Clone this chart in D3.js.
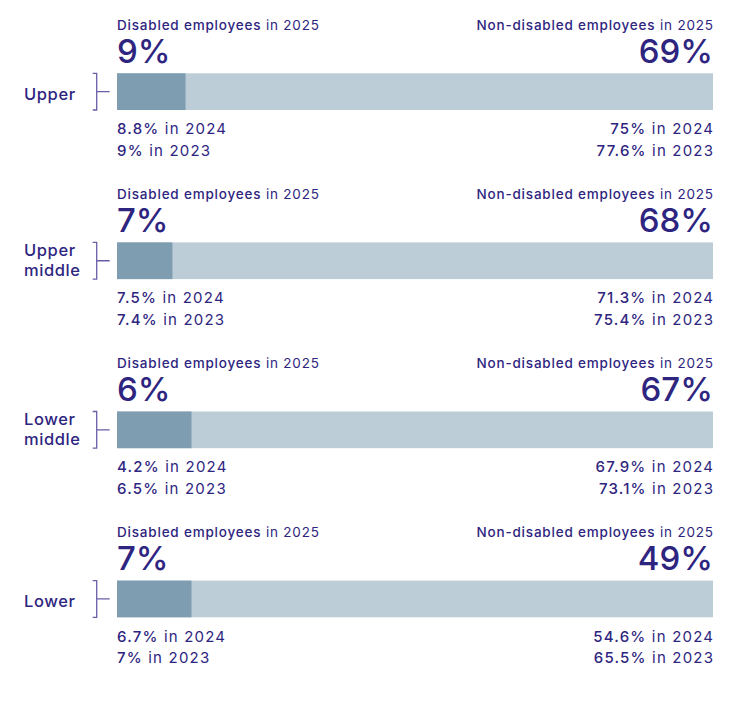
<!DOCTYPE html>
<html><head><meta charset="utf-8">
<script src="https://cdn.jsdelivr.net/npm/d3@7"></script>
<style>body{margin:0;background:#fff;} svg{display:block;} text{font-family:Inter,"Noto Sans",sans-serif;white-space:pre;}</style>
</head><body><svg id="c" width="730" height="706"></svg>
<script>
const groups = ["Upper", "Upper middle", "Lower middle", "Lower"];
const disabled2025 = [9, 7, 6, 7];
const nonDisabled2025 = [69, 68, 67, 49];
const disabled2024 = [8.8, 7.5, 4.2, 6.7];
const disabled2023 = [9, 7.4, 6.5, 7];
const nonDisabled2024 = [75, 71.3, 67.9, 54.6];
const nonDisabled2023 = [77.6, 75.4, 73.1, 65.5];
const darkShare = [11.5, 9.3, 12.5, 12.5];

const svg = d3.select("#c");
const textCol = "#2e2580", brCol = "#6a5ea8";
const x = d3.scaleLinear().domain([0, 100]).range([117, 713]);
const y = d3.scaleBand().domain(groups).range([0, 676.4]);
const barTop = 73.3, barH = 36.7;

// two-weight text: medium part, a space, then regular part
function pair(sel, px, py, anchor, medText, regText, size, ls) {
  const gap = size * 0.28 + ls;
  const mk = (t, w, xx, a) => sel.append("text").attr("x", xx).attr("y", py).attr("fill", textCol)
    .attr("font-size", size).attr("font-weight", w).attr("letter-spacing", ls).attr("text-anchor", a).text(t);
  if (anchor === "start") {
    const m = mk(medText, 500, px, "start");
    const w = m.node().getComputedTextLength();
    mk(regText, 400, px + w + gap, "start");
  } else {
    const r = mk(regText, 400, px + ls, "end");
    const w = r.node().getComputedTextLength();
    mk(medText, 500, px + ls - w - gap, "end");
  }
}

groups.forEach((g, i) => {
  const g0 = svg.append("g").attr("transform", `translate(0,${y(g)})`);
  g0.append("rect").attr("x", x(0)).attr("y", barTop).attr("width", x(100) - x(0)).attr("height", barH).attr("fill", "#bccdd8");
  g0.append("rect").attr("x", x(0)).attr("y", barTop).attr("width", x(darkShare[i]) - x(0)).attr("height", barH).attr("fill", "#7f9db1");
  const bx = 96.7, mid = barTop + barH / 2;
  g0.append("path").attr("d", `M${bx-4},${barTop}H${bx}V${barTop+barH}H${bx-4}M${bx},${mid}H${bx+13}`)
    .attr("fill", "none").attr("stroke", brCol).attr("stroke-width", 1.3);
  const words = g.split(" ");
  const lab = g0.append("text").attr("fill", textCol).attr("font-size", 16.5).attr("font-weight", 500).attr("letter-spacing", 0.6);
  if (words.length === 1) {
    lab.append("tspan").attr("x", 24).attr("y", mid + 8).text(words[0]);
  } else {
    lab.append("tspan").attr("x", 24).attr("y", mid - 4.7).text(words[0]);
    lab.append("tspan").attr("x", 24).attr("y", mid + 15).text(words[1]);
  }
  pair(g0, x(0), 30.2, "start", "Disabled employees", "in 2025", 13.5, 0.8);
  pair(g0, x(100), 30.2, "end", "Non-disabled employees", "in 2025", 13.5, 0.8);
  g0.append("text").attr("x", x(0)).attr("y", 62.7).attr("fill", textCol).attr("font-size", 33).attr("font-weight", 500).text(disabled2025[i] + "%");
  g0.append("text").attr("x", x(100)).attr("y", 62.7).attr("fill", textCol).attr("font-size", 33).attr("font-weight", 500).attr("text-anchor", "end").text(nonDisabled2025[i] + "%");
  const rows = [[disabled2024[i], nonDisabled2024[i], "2024", 134.3], [disabled2023[i], nonDisabled2023[i], "2023", 156]];
  rows.forEach(([dv, nv, yr, yy]) => {
    pair(g0, x(0), yy, "start", dv + "%", "in " + yr, 15, 1.2);
    pair(g0, x(100), yy, "end", nv + "%", "in " + yr, 15, 1.2);
  });
});
</script></body></html>
